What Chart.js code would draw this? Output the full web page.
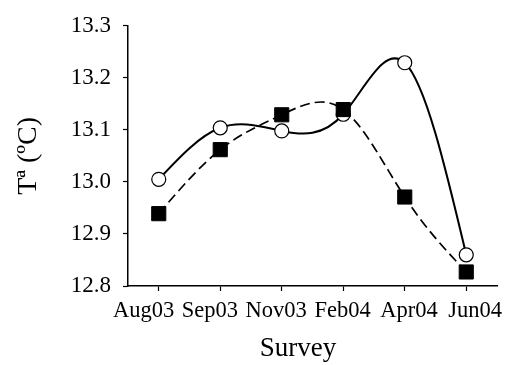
<!DOCTYPE html>
<html>
<head>
<meta charset="utf-8">
<script src="https://cdn.jsdelivr.net/npm/chart.js@4"></script>
<style>
html,body{margin:0;padding:0;background:#fff;}
#wrap{width:508px;height:365px;}
</style>
</head>
<body>
<div id="wrap"><canvas id="c" width="508" height="365"></canvas></div>
<script>
const categories = ['Aug03', 'Sep03', 'Nov03', 'Feb04', 'Apr04', 'Jun04'];
const seriesCircles = [13.005, 13.104, 13.098, 13.13, 13.229, 12.860];
const seriesSquares = [12.939, 13.062, 13.129, 13.139, 12.971, 12.827];
const yTickValues = [12.8, 12.9, 13.0, 13.1, 13.2, 13.3];
const xTitle = 'Survey';
const yTitle = 'Tª (ºC)';

const serif = "'Liberation Serif', 'Times New Roman', serif";

// natural cubic spline through the points (pixel space) -> bezier control points
const naturalSpline = {
  id: 'naturalSpline',
  beforeDatasetDraw(chart, args) {
    const meta = args.meta;
    if (!meta.dataset) return;
    meta.dataset.updateControlPoints(chart.chartArea, 'x');
    const pts = meta.data;
    const n = pts.length - 1;
    if (n < 2) return;
    const h = pts[1].x - pts[0].x;
    const y = pts.map(p => p.y);
    const M = new Array(n + 1).fill(0);
    const a = [], b = [], c = [], d = [];
    for (let i = 1; i < n; i++) {
      a.push(1); b.push(4); c.push(1);
      d.push(6 * (y[i + 1] - 2 * y[i] + y[i - 1]) / (h * h));
    }
    const m = d.length;
    for (let i = 1; i < m; i++) {
      const w = a[i] / b[i - 1];
      b[i] -= w * c[i - 1];
      d[i] -= w * d[i - 1];
    }
    const sol = new Array(m);
    sol[m - 1] = d[m - 1] / b[m - 1];
    for (let i = m - 2; i >= 0; i--) sol[i] = (d[i] - c[i] * sol[i + 1]) / b[i];
    for (let i = 1; i < n; i++) M[i] = sol[i - 1];
    const der = [];
    for (let i = 0; i < n; i++) der.push((y[i + 1] - y[i]) / h - h * (2 * M[i] + M[i + 1]) / 6);
    der.push((y[n] - y[n - 1]) / h + h * (M[n - 1] + 2 * M[n]) / 6);
    for (let i = 0; i <= n; i++) {
      const p = pts[i];
      p.cp1x = p.x - h / 3; p.cp1y = p.y - der[i] * h / 3;
      p.cp2x = p.x + h / 3; p.cp2y = p.y + der[i] * h / 3;
    }
    meta.dataset._path = undefined;
  }
};

// x axis title, drawn as text below the tick labels
const xTitlePlugin = {
  id: 'xTitlePlugin',
  afterDraw(chart) {
    const ctx = chart.ctx;
    ctx.save();
    ctx.fillStyle = '#000';
    ctx.font = '27px ' + serif;
    ctx.textAlign = 'center';
    ctx.textBaseline = 'alphabetic';
    ctx.fillText(xTitle, 298, 356);
    ctx.restore();
  }
};

new Chart(document.getElementById('c'), {
  type: 'line',
  data: {
    labels: categories,
    datasets: [
      {
        data: seriesSquares,
        borderColor: '#000',
        borderWidth: 1.7,
        borderDash: [10, 5],
        tension: 0.4,
        fill: false,
        pointStyle: 'rect',
        pointRadius: 10,
        pointBackgroundColor: '#000',
        pointBorderColor: '#000',
        pointBorderWidth: 1
      },
      {
        data: seriesCircles,
        borderColor: '#000',
        borderWidth: 2,
        tension: 0.4,
        fill: false,
        pointStyle: 'circle',
        pointRadius: 7,
        pointBackgroundColor: '#fff',
        pointBorderColor: '#000',
        pointBorderWidth: 1.2
      }
    ]
  },
  options: {
    responsive: false,
    animation: false,
    devicePixelRatio: 1,
    layout: { padding: { left: 0, right: 9, top: 20, bottom: 0 } },
    elements: { line: { capBezierPoints: false } },
    plugins: { legend: { display: false }, tooltip: { enabled: false } },
    scales: {
      x: {
        weight: 0,
        offset: true,
        grid: { display: true, drawOnChartArea: false, offset: false, tickLength: 5, color: '#000', tickWidth: 1.2 },
        border: { display: true, color: '#000', width: 1.5 },
        ticks: { display: false },
        afterFit(scale) { scale.height = 6; }
      },
      x2: {
        type: 'linear',
        position: 'bottom',
        weight: 1,
        min: -0.234, max: 5.328,
        afterBuildTicks(scale) { scale.ticks = categories.map((_, i) => ({ value: i })); },
        grid: { display: false },
        border: { display: false },
        ticks: { color: '#000', font: { family: serif, size: 22.5 }, padding: -2, maxRotation: 0, autoSkip: false,
                 callback: v => categories[v] },
        afterFit(scale) { scale.height = 73; }
      },
      y: {
        min: 12.8, max: 13.3,
        afterBuildTicks(scale) { scale.ticks = yTickValues.map(v => ({ value: v })); },
        grid: { display: true, drawOnChartArea: false, tickLength: 5, color: '#000', tickWidth: 1.2 },
        border: { display: true, color: '#000', width: 1.5 },
        ticks: { color: '#000', font: { family: serif, size: 23 }, padding: 12, callback: v => Number(v).toFixed(1) },
        title: { display: true, text: yTitle, color: '#000', font: { family: serif, size: 28 }, padding: { top: 12 } },
        afterFit(scale) { scale.width = 128; }
      }
    }
  },
  plugins: [naturalSpline, xTitlePlugin]
});
</script>
</body>
</html>
